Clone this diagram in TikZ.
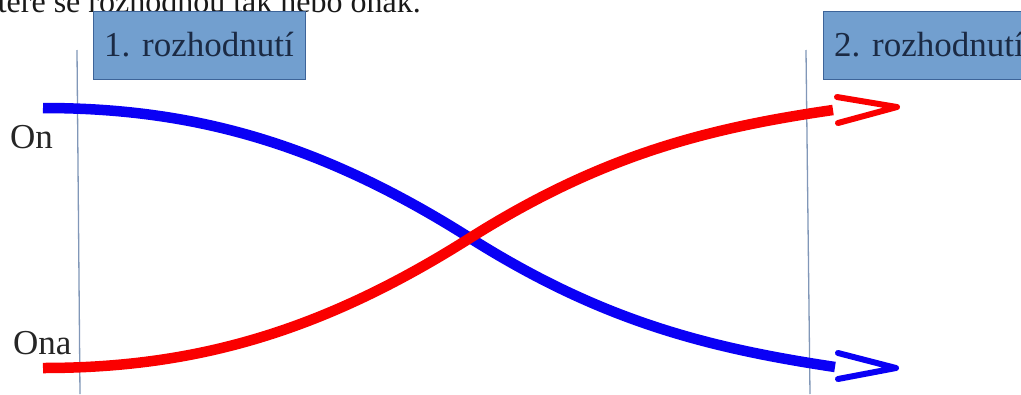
\documentclass[tikz,border=0pt]{standalone}
\usepackage{fontspec}
\setmainfont{Liberation Serif}
\definecolor{boxfill}{HTML}{729FCF}
\definecolor{boxedge}{HTML}{3D6499}
\definecolor{boxtext}{HTML}{1B2A44}
\definecolor{divline}{HTML}{8197B8}
\definecolor{hisblue}{HTML}{0A00F5}
\definecolor{herred}{HTML}{FA0000}
\begin{document}
\begin{tikzpicture}[x=1pt,y=-1pt,
  shaft/.style={line width=10.5pt},
  headv/.style={line width=6pt, line cap=round, line join=round},
  decbox/.style={draw=boxedge, fill=boxfill, line width=1pt, minimum width=212pt,
    minimum height=68pt, inner sep=0pt, text=boxtext, font=\fontsize{35}{40}\selectfont},
  divider/.style={draw=divline, line width=1.3pt},
  lbl/.style={font=\fontsize{35}{40}\selectfont, text=black!85, inner sep=0pt},
  toptext/.style={font=\fontsize{32}{36}\selectfont, text=black!90, inner sep=0pt}]
\useasboundingbox (0,0) rectangle (1021,394);
\clip (0,0) rectangle (1021,394);
\fill[white] (0,0) rectangle (1021,394);
% top caption (cut by the frame)
\node[toptext, anchor=base east] (cap) at (421,12) {které se rozhodnou tak nebo onak.};
% dividers
\coordinate (d1t) at (77,50);  \coordinate (d1b) at (80,394);
\coordinate (d2t) at (806,50); \coordinate (d2b) at (810,394);
\draw[divider] (d1t) -- (d1b);
\draw[divider] (d2t) -- (d2b);
% decision boxes
\node[decbox] (r1) at (199,45) {1. rozhodnutí};
\node[decbox] (r2) at (929,45) {2. rozhodnutí};
% labels
\node[lbl, anchor=base west] (on) at (10,148) {On};
\node[lbl, anchor=base west] (ona) at (13,354) {Ona};
% curves
\coordinate (bs) at (43,108);
\coordinate (be) at (835,367);
\coordinate (rs) at (43,368);
\coordinate (re) at (833,110);
\coordinate (cx) at (470,238);
\draw[shaft, hisblue] (bs) .. controls (193,108) and (320,143) .. (cx)
  .. controls (600,320) and (705,347.5) .. (be);
\draw[shaft, herred] (rs) .. controls (193,368) and (320,333) .. (cx)
  .. controls (600,156) and (705,128.5) .. (re);
% open arrow heads
\coordinate (bh1) at (838,353); \coordinate (bht) at (896,368); \coordinate (bh2) at (838,379);
\coordinate (rh1) at (837,97);  \coordinate (rht) at (897,107); \coordinate (rh2) at (838,123);
\draw[headv, hisblue] (bh1) -- (bht) -- (bh2);
\draw[headv, herred] (rh1) -- (rht) -- (rh2);
\end{tikzpicture}
\end{document}
